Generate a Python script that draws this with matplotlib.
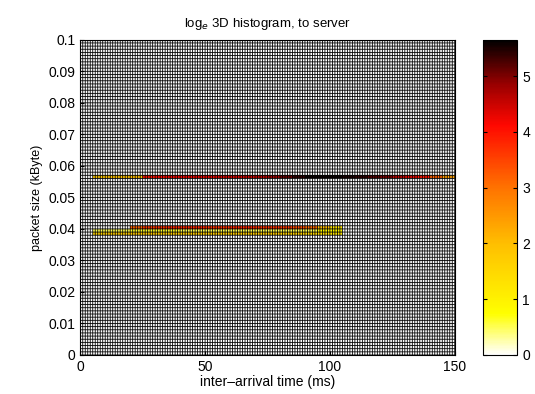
import numpy as np
import matplotlib
matplotlib.use('Agg')
import matplotlib.pyplot as plt
from matplotlib.colors import LinearSegmentedColormap

plt.rcParams['font.family'] = ['Liberation Sans', 'DejaVu Sans']

# log_e counts, one value per 5 ms bin (0-150 ms), for the non-empty packet-size rows
t_bin = 5
row_056 = [0, 1.8, 1.9, 1.9, 2.0, 4.0, 4.1, 4.2, 4.2, 4.3, 4.3, 4.4, 4.4, 4.5, 4.6, 4.8,
           5.1, 5.4, 5.6, 5.6, 5.6, 5.5, 5.4, 5.2, 5.0, 4.6, 4.3, 4.0, 3.2, 2.4]
row_040 = [0, 0, 0, 0, 3.2, 3.6, 3.7, 3.8, 3.8, 3.8, 3.7, 3.7, 3.8, 3.8, 3.7, 3.7,
           3.6, 3.4, 3.1, 2.0, 1.2, 0, 0, 0, 0, 0, 0, 0, 0, 0]
row_039 = [0, 0.5, 0.5, 0.5, 0.6, 0.6, 0.6, 0.6, 0.5, 0.5, 0.5, 0.5, 0.5, 0.5, 0.5, 0.5,
           0.5, 0.5, 0.5, 0.8, 0.8, 0, 0, 0, 0, 0, 0, 0, 0, 0]
row_038 = [0, 1.6, 1.7, 1.7, 1.8, 1.8, 1.7, 1.7, 1.7, 1.7, 1.7, 1.7, 1.7, 1.7, 1.7, 1.7,
           1.6, 1.6, 1.5, 1.4, 1.2, 0, 0, 0, 0, 0, 0, 0, 0, 0]

x_edges = np.arange(0, 151, 1)          # ms
y_edges = np.arange(0, 101, 1) / 1000.0  # kByte
H = np.zeros((100, 150))
for idx, vals in [(56, row_056), (40, row_040), (39, row_039), (38, row_038)]:
    H[idx, :] = np.repeat(vals, t_bin)

cmap = LinearSegmentedColormap.from_list('hotflip', [
    (0.0, (1, 1, 1)), (0.13, (1, 1, 0)), (0.35, (1, 0.75, 0)),
    (0.53, (1, 0.45, 0)), (0.73, (1, 0.03, 0)), (0.86, (0.6, 0, 0)),
    (1.0, (0, 0, 0))])

fig = plt.figure(figsize=(5.35, 3.94), dpi=100)
ax = fig.add_axes([0.15, 0.099, 0.70, 0.80])
cax = fig.add_axes([0.903, 0.099, 0.064, 0.80])

mesh = ax.pcolormesh(x_edges, y_edges, H, cmap=cmap, vmin=0, vmax=5.65)
# cell edges, as drawn by the original surface plot
ax.vlines(x_edges, 0, 0.1, color='k', linewidth=0.6, snap=False)
ax.hlines(y_edges, 0, 150, color='k', linewidth=0.6, snap=False)
ax.set_xlim(0, 150)
ax.set_ylim(0, 0.1)
ax.set_xticks([0, 50, 100, 150])
ax.set_yticks(np.arange(0, 0.101, 0.01))
ax.set_yticklabels(['0', '0.01', '0.02', '0.03', '0.04', '0.05', '0.06',
                    '0.07', '0.08', '0.09', '0.1'])
ax.tick_params(direction='in', labelsize=10, length=3)
ax.set_xlabel('inter\u2013arrival time (ms)', fontsize=10, labelpad=1)
ax.set_ylabel('packet size (kByte)', fontsize=9, labelpad=4)
ax.set_title('log$_e$ 3D histogram, to server', fontsize=9.5, pad=9)

cb = fig.colorbar(mesh, cax=cax)
cb.set_ticks([0, 1, 2, 3, 4, 5])
cax.tick_params(direction='in', labelsize=10, length=3, left=True)
cb.outline.set_linewidth(0.8)

fig.savefig('out.png', dpi=100)
